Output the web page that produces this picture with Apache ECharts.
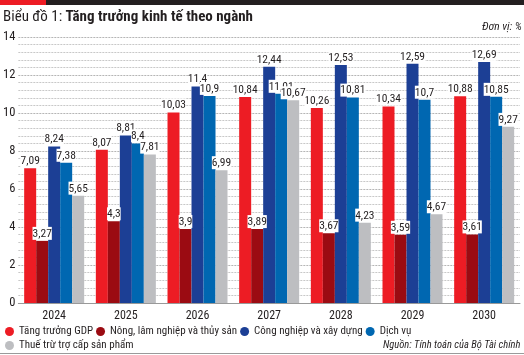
<!DOCTYPE html>
<html><head><meta charset="utf-8">
<script src="https://cdn.jsdelivr.net/npm/echarts@6/dist/echarts.min.js"></script>
<style>html,body{margin:0;padding:0;background:#fff}#wrap{position:relative;width:524px;height:355px}#c{width:524px;height:355px}</style>
</head><body><div id="wrap"><div id="c"></div>
<div style="position:absolute;left:0;top:0;width:46px;height:5px;background:#ed1c24;z-index:10"></div>
<div style="position:absolute;left:46px;top:0;width:478px;height:5px;background:#231f20;z-index:10"></div>
<div style="position:absolute;left:0;top:353px;width:524px;height:1px;background:#9a9a9a;z-index:10"></div>
</div>
<script>
const categories = ['2024','2025','2026','2027','2028','2029','2030'];
const seriesNames = ['Tăng trưởng GDP','Nông, lâm nghiệp và thủy sản','Công nghiệp và xây dựng','Dịch vụ','Thuế trừ trợ cấp sản phẩm'];
const gdp = [7.09, 8.07, 10.03, 10.84, 10.26, 10.34, 10.88];
const nong = [3.27, 4.3, 3.9, 3.89, 3.67, 3.59, 3.61];
const cong = [8.24, 8.81, 11.4, 12.44, 12.53, 12.59, 12.69];
const dichvu = [7.38, 8.4, 10.9, 11.01, 10.81, 10.7, 10.85];
const thue = [5.65, 7.81, 6.99, 10.67, 4.23, 4.67, 9.27];
const yTicks = [0,2,4,6,8,10,12,14];
const colors = ['#ed1c24','#9b0b12','#1c3f95','#0067b1','#bdbec1'];

const FONT = '"Roboto Condensed"';
const LFS = 11;
const values = [gdp, nong, cong, dichvu, thue];
const chart = echarts.init(document.getElementById('c'), null, {renderer:'canvas'});
chart.setOption({
  animation:false,
  textStyle:{fontFamily:FONT},
  graphic:[
    {type:'rect', left:0, top:0, shape:{width:46,height:5}, style:{fill:'#ed1c24'}},
    {type:'rect', left:46, top:0, shape:{width:478,height:5}, style:{fill:'#231f20'}},
    {type:'rect', left:0, top:353, shape:{width:524,height:1}, style:{fill:'#9a9a9a'}},
    {type:'text', left:3, top:10, style:{text:'{a|Biểu đồ 1: }{b|Tăng trưởng kinh tế theo ngành}', rich:{a:{fontSize:15,fontFamily:FONT,fill:'#231f20'},b:{fontSize:15,fontWeight:'bold',fontFamily:FONT,fill:'#231f20'}}}},
    {type:'text', left:482, top:21, style:{text:'Đơn vị: %', fontSize:11.5, fontStyle:'italic', fontFamily:FONT, fill:'#231f20'}},
    {type:'text', left:383, top:340, style:{text:'Nguồn: Tính toán của Bộ Tài chính', fontSize:10.5, fontStyle:'italic', fontFamily:FONT, fill:'#231f20'}}
  ],
  legend:{
    left:5, top:326, padding:0, width:519, itemWidth:9, itemHeight:9, itemGap:3, icon:'circle',
    textStyle:{fontSize:LFS, fontFamily:FONT, color:'#231f20'},
    data:seriesNames
  },
  grid:{left:16, right:4, top:37, bottom:52, containLabel:false},
  xAxis:{type:'category', data:categories,
    axisLine:{lineStyle:{color:'#999', width:1}}, axisTick:{show:false},
    axisLabel:{fontSize:12, color:'#231f20', margin:7, fontFamily:FONT}},
  yAxis:{type:'value', min:0, max:14, interval:2,
    axisLabel:{fontSize:12.5, color:'#231f20', margin:3, fontFamily:FONT, formatter:v=>yTicks.includes(v)?String(v):''},
    splitLine:{lineStyle:{type:[2,1], color:'#b5b5b5', width:1}},
    minorSplitLine:{show:true, lineStyle:{type:[2,1], color:'#c8c8c8', width:1}},
    minorTick:{show:false, splitNumber:5}},
  series: values.map((d,i)=>({
    name:seriesNames[i], type:'bar', data:d, barWidth:12, barGap:'0%', barCategoryGap:'16%',
    itemStyle:{color:colors[i]},
    label:{show:true, position:'top', distance:1, fontSize:11.5, color:'#231f20', fontFamily:FONT,
      backgroundColor:'#fff', padding:[1,0,0,0],
      formatter:p=>String(p.value).replace('.',',')}
  }))
});
</script></body></html>
